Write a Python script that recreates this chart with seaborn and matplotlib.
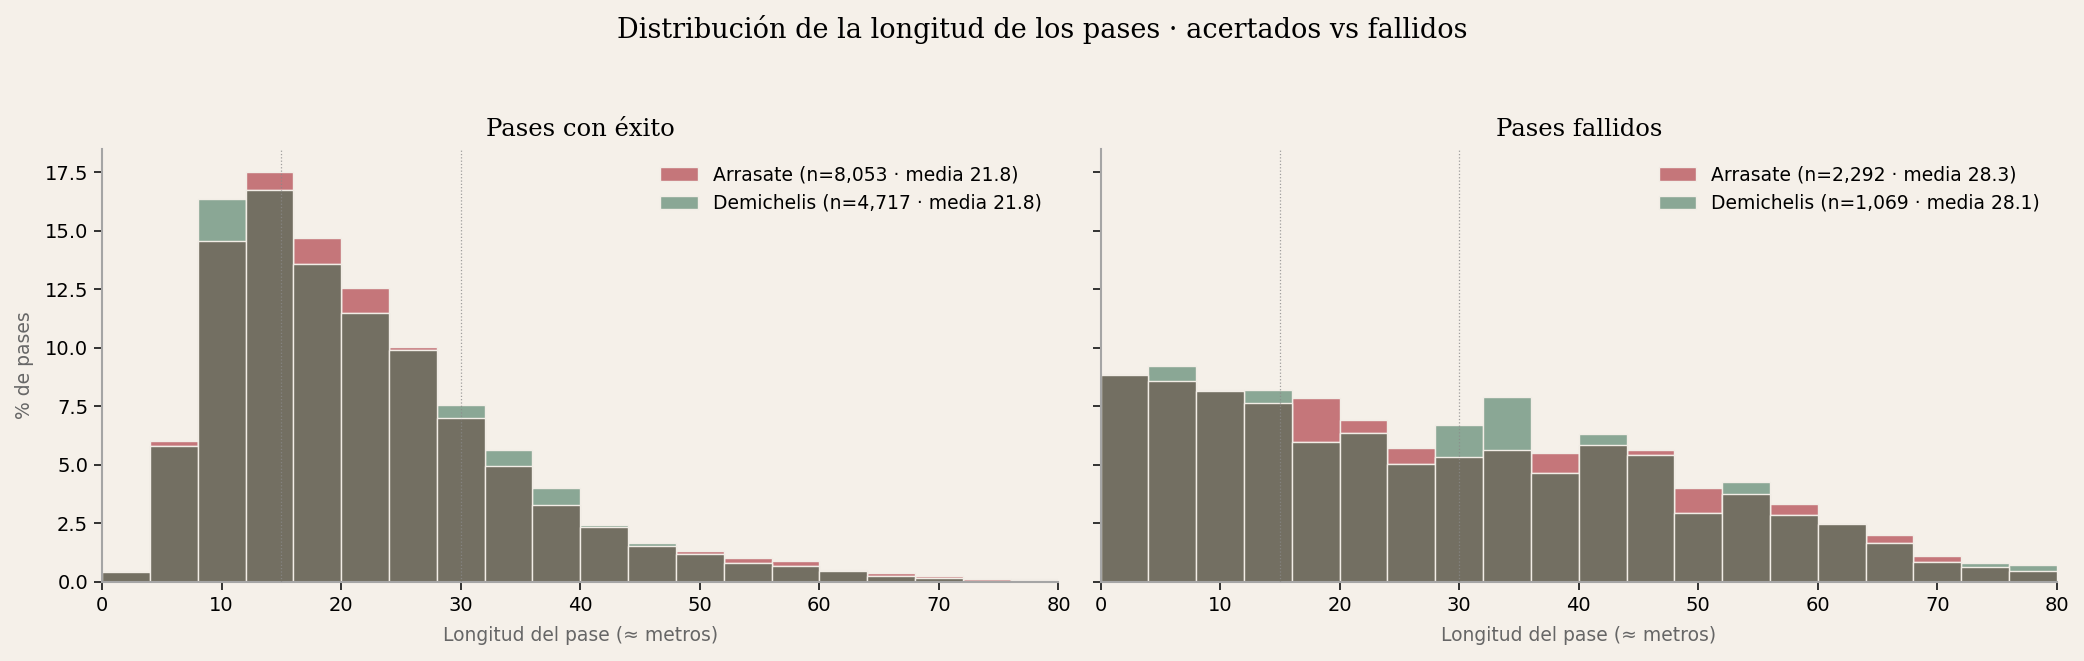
import numpy as np
import pandas as pd
import matplotlib
matplotlib.use("Agg")
import matplotlib.pyplot as plt
import seaborn as sns

# bin edges (metros) and % de pases per bin
bin_edges = list(range(0, 84, 4))

exito_arrasate = [0.47, 6.03, 14.57, 17.50, 14.70, 12.53, 10.02, 7.01, 4.93, 3.27,
                  2.32, 1.54, 1.30, 1.02, 0.89, 0.48, 0.38, 0.23, 0.10, 0.09]
exito_demichelis = [0.42, 5.79, 16.35, 16.75, 13.56, 11.48, 9.91, 7.56, 5.61, 3.99,
                    2.41, 1.64, 1.20, 0.78, 0.68, 0.47, 0.25, 0.17, 0.05, 0.11]

fallo_arrasate = [8.88, 8.58, 8.16, 7.65, 7.83, 6.92, 5.73, 5.31, 5.61, 5.48,
                  5.82, 5.61, 3.99, 3.74, 3.31, 2.46, 2.00, 1.10, 0.64, 0.47]
fallo_demichelis = [8.83, 9.22, 8.20, 8.20, 5.96, 6.34, 5.03, 6.71, 7.90, 4.64,
                    6.31, 5.41, 2.94, 4.25, 2.86, 2.46, 1.67, 0.82, 0.81, 0.72]

labels_exito = ["Arrasate (n=8,053 · media 21.8)", "Demichelis (n=4,717 · media 21.8)"]
labels_fallo = ["Arrasate (n=2,292 · media 28.3)", "Demichelis (n=1,069 · media 28.1)"]
titles = ["Pases con éxito", "Pases fallidos"]
ref_lines = [15, 30]

BG = "#f5f0e9"
RED = "#c5767a"
GREEN = "#8aa795"
DARK = "#736f62"
EDGE = "#f2ede6"

sns.set_theme(style="white")
plt.rcParams["font.family"] = ["DejaVu Sans"]

fig, axes = plt.subplots(1, 2, figsize=(20.84, 6.61), dpi=100, sharey=True)
fig.patch.set_facecolor(BG)
fig.subplots_adjust(left=0.049, right=0.987, top=0.775, bottom=0.12, wspace=0.044)

centers = [e + 2 for e in bin_edges[:-1]]
panels = [(exito_arrasate, exito_demichelis, labels_exito),
          (fallo_arrasate, fallo_demichelis, labels_fallo)]

for ax, (red_vals, green_vals, labels), title in zip(axes, panels, titles):
    ax.set_facecolor(BG)
    overlap = np.minimum(red_vals, green_vals)
    layers = [(red_vals, RED, labels[0]), (green_vals, GREEN, labels[1]), (overlap, DARK, None)]
    for vals, color, lab in layers:
        sns.histplot(x=centers, weights=vals, bins=bin_edges, color=color, alpha=1,
                     edgecolor=EDGE, linewidth=1.0, ax=ax, label=lab)
    for xv in ref_lines:
        ax.axvline(xv, color="#8a8a8a", linestyle=":", linewidth=0.9, alpha=0.8, zorder=5)

    ax.set_xlim(0, 80)
    ax.set_ylim(0, 18.5)
    ax.set_xticks(range(0, 90, 10))
    ax.set_yticks(np.arange(0, 18, 2.5))
    ax.set_title(title, fontsize=17.5, family="DejaVu Serif", pad=9, color="black")
    ax.set_xlabel("Longitud del pase (≈ metros)", fontsize=13.5, color="#666666", labelpad=8)
    ax.set_ylabel("")
    ax.tick_params(axis="both", labelsize=14, length=6, width=1.3, color="#222222",
                   labelcolor="black", bottom=True, left=True, pad=4)
    sns.despine(ax=ax)
    for side in ["left", "bottom"]:
        ax.spines[side].set_color("#a5a5a5")
        ax.spines[side].set_linewidth(1.5)
    handles, labs = ax.get_legend_handles_labels()
    leg = ax.legend(handles[:2], labs[:2], loc="upper right", frameon=False, fontsize=13.5,
                    handlelength=2.0, borderaxespad=0.5)
    for txt in leg.get_texts():
        txt.set_color("black")

axes[0].set_ylabel("% de pases", fontsize=13.5, color="#666666", labelpad=8)
axes[1].tick_params(axis="y", labelleft=False)

fig.suptitle("Distribución de la longitud de los pases · acertados vs fallidos",
             fontsize=19.5, family="DejaVu Serif", y=0.978, color="black")

fig.savefig("out.png", dpi=100, facecolor=BG)
